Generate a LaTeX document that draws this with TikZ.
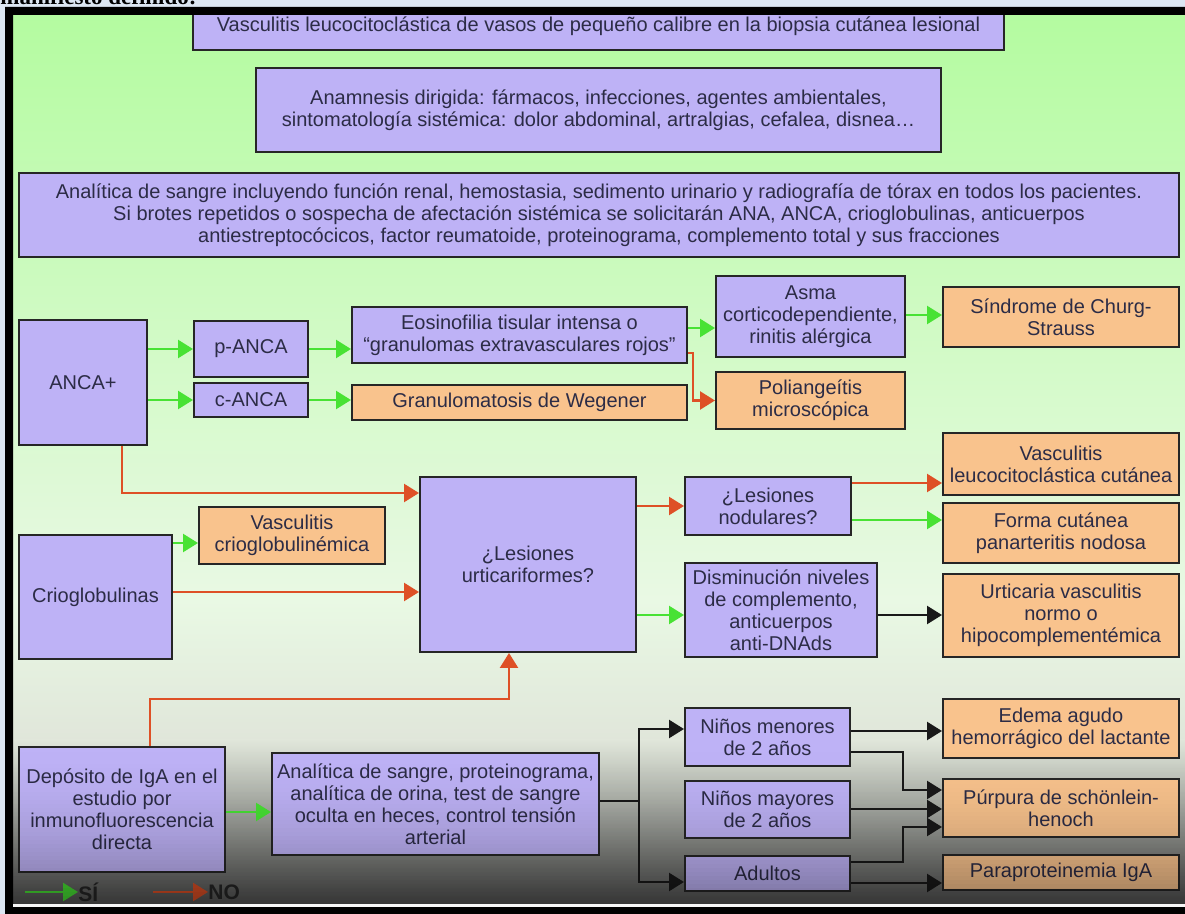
\documentclass[tikz,border=0pt]{standalone}
\usepackage{fontspec}
\setmainfont{Liberation Sans}
\newfontfamily\cabecera{Liberation Serif}
\usepackage{tikz}
\usetikzlibrary{arrows.meta}
\definecolor{colorVerde}{HTML}{B4FBA0}
\definecolor{colorPalido}{HTML}{E9F9E4}
\definecolor{colorGris}{HTML}{E0E6DA}
\definecolor{colorOscuro}{HTML}{555555}
\definecolor{colorMorado}{HTML}{BEB2F6}
\definecolor{colorNaranja}{HTML}{F9C38D}
\definecolor{colorSi}{HTML}{48E234}
\definecolor{colorNo}{HTML}{DE5026}
\definecolor{colorTexto}{HTML}{2C2C46}
\definecolor{colorMarco}{HTML}{DCE6F2}

\tikzset{
  caja/.style={draw=black!85, line width=1pt, inner sep=0pt, align=center,
    text=colorTexto, font=\fontsize{10}{11}\selectfont},
  morada/.style={caja, fill=colorMorado},
  naranja/.style={caja, fill=colorNaranja},
  esquinas/.style n args={4}{at={({(#1+#3)/2},{(#2+#4)/2})},
    minimum width={(#3-#1)*0.5pt}, minimum height={(#4-#2)*0.5pt}},
  flecha/.style={line width=1.2pt, -{Triangle[length=7.5pt,width=9pt]}},
  si/.style={flecha, draw=colorSi},
  no/.style={flecha, draw=colorNo},
  neutra/.style={flecha, draw=black!90},
  leyenda/.style={anchor=west, inner sep=0pt, text=black!85,
    font=\bfseries\fontsize{10.5}{11}\selectfont},
}

\begin{document}
\begin{tikzpicture}[x=0.5pt, y=-0.5pt]
    \useasboundingbox (0,0) rectangle (1185,914);
    \fill[colorMarco] (0,0) rectangle (1185,914);

    \begin{scope}
        \clip (13,15) rectangle (1185,904);
        \fill[top color=colorVerde, bottom color=colorPalido] (13,15) rectangle (1185,600);
        \fill[top color=colorPalido, bottom color=colorGris] (13,600) rectangle (1185,740);
        \fill[top color=colorGris, bottom color=colorOscuro] (13,740) rectangle (1185,905);

        % cajas de arriba
        \node[morada, esquinas={193}{2}{1004}{50}] (biopsia) {Vasculitis leucocitoclástica de vasos de pequeño calibre en la biopsia cutánea lesional};
        \node[morada, esquinas={256}{68}{941}{152}] (anamnesis) {Anamnesis dirigida: fármacos, infecciones, agentes ambientales,\\sintomatología sistémica: dolor abdominal, artralgias, cefalea, disnea…};
        \node[morada, esquinas={19}{173}{1179}{257}] (analitica) {Analítica de sangre incluyendo función renal, hemostasia, sedimento urinario y radiografía de tórax en todos los pacientes.\\Si brotes repetidos o sospecha de afectación sistémica se solicitarán ANA, ANCA, crioglobulinas, anticuerpos\\antiestreptocócicos, factor reumatoide, proteinograma, complemento total y sus fracciones};

        % ANCA
        \node[morada, esquinas={19}{320}{147}{445}] (anca) {ANCA+};
        \node[morada, esquinas={194}{321}{308}{377}] (panca) {p-ANCA};
        \node[morada, esquinas={194}{383}{308}{417}] (canca) {c-ANCA};
        \node[morada, esquinas={352}{307}{687}{363}] (eosino) {Eosinofilia tisular intensa o\\“granulomas extravasculares rojos”};
        \node[naranja, esquinas={352}{385}{687}{420}] (wegener) {Granulomatosis de Wegener};
        \node[morada, esquinas={716}{276}{905}{357}] (asma) {Asma\\corticodependiente,\\rinitis alérgica};
        \node[naranja, esquinas={943}{287}{1179}{347}] (churg) {Síndrome de Churg-\\Strauss};
        \node[naranja, esquinas={716}{372}{905}{429}] (poliang) {Poliangeítis\\microscópica};

        % lesiones
        \node[morada, esquinas={420}{477}{636}{652}] (urtica) {¿Lesiones\\urticariformes?};
        \node[morada, esquinas={19}{535}{172}{659}] (crio) {Crioglobulinas};
        \node[naranja, esquinas={199}{507}{385}{564}] (criovasc) {Vasculitis\\crioglobulinémica};
        \node[morada, esquinas={685}{477}{851}{535}] (nodular) {¿Lesiones\\nodulares?};
        \node[naranja, esquinas={943}{433}{1179}{495}] (leuco) {Vasculitis\\leucocitoclástica cutánea};
        \node[naranja, esquinas={943}{503}{1179}{563}] (forma) {Forma cutánea\\panarteritis nodosa};
        \node[morada, esquinas={685}{563}{877}{657}] (disminu) {Disminución niveles\\de complemento,\\anticuerpos\\anti-DNAds};
        \node[naranja, esquinas={943}{574}{1179}{657}] (urtvasc) {Urticaria vasculitis\\normo o\\hipocomplementémica};

        % IgA
        \node[morada, esquinas={19}{747}{225}{872}] (iga) {Depósito de IgA en el\\estudio por\\inmunofluorescencia\\directa};
        \node[morada, esquinas={272}{753}{599}{855}] (pruebas) {Analítica de sangre, proteinograma,\\analítica de orina, test de sangre\\oculta en heces, control tensión\\arterial};
        \node[morada, esquinas={685}{708}{850}{766}] (menores) {Niños menores\\de 2 años};
        \node[morada, esquinas={685}{781}{850}{838}] (mayores) {Niños mayores\\de 2 años};
        \node[morada, esquinas={685}{856}{850}{891}] (adultos) {Adultos};
        \node[naranja, esquinas={943}{699}{1179}{758}] (edema) {Edema agudo\\hemorrágico del lactante};
        \node[naranja, esquinas={943}{779}{1179}{837}] (purpura) {Púrpura de schönlein-\\henoch};
        \node[naranja, esquinas={943}{855}{1179}{890}] (paraprot) {Paraproteinemia IgA};

        % flechas ANCA
        \draw[si] (anca.east |- panca.west) -- (panca.west);
        \draw[si] (anca.east |- canca.west) -- (canca.west);
        \draw[si] (panca.east) -- (panca.east -| eosino.west);
        \draw[si] (canca.east) -- (canca.east -| wegener.west);
        \draw[si] (eosino.east |- 0,328) -- (asma.west |- 0,328);
        \draw[no] (eosino.east |- 0,353) -- ++(5,0) |- (poliang.west);
        \draw[si] (asma.east |- 0,315) -- (churg.west |- 0,315);
        \draw[no] (anca.south -| 122,0) |- (urtica.west |- 0,493);

        % flechas crioglobulinas e IgA
        \draw[si] (crio.east |- 0,543) -- (criovasc.west |- 0,543);
        \draw[no] (crio.east |- 0,592) -- (urtica.west |- 0,592);
        \draw[no] (iga.north -| 150,0) -- ++(0,-47) -| (urtica.south -| 509,0);
        \draw[si] (iga.east |- 0,812) -- (pruebas.west |- 0,812);

        % flechas lesiones
        \draw[no] (urtica.east |- nodular.west) -- (nodular.west);
        \draw[si] (urtica.east |- 0,615) -- (disminu.west |- 0,615);
        \draw[no] (nodular.east |- 0,483) -- (leuco.west |- 0,483);
        \draw[si] (nodular.east |- 0,520) -- (forma.west |- 0,520);
        \draw[neutra] (disminu.east |- 0,615) -- (urtvasc.west |- 0,615);

        % edades
        \coordinate (reparto) at (639,801);
        \coordinate (codo) at (903,0);
        \draw[line width=1.2pt, black!90] (pruebas.east |- reparto) -- (reparto);
        \draw[neutra] (reparto) |- (menores.west |- 0,729);
        \draw[neutra] (reparto) |- (adultos.west |- 0,882);
        \draw[neutra] (menores.east |- 0,731) -- (edema.west |- 0,731);
        \draw[neutra] (menores.east |- 0,752) -| (codo |- 0,790) -- (purpura.west |- 0,790);
        \draw[neutra] (mayores.east |- 0,809) -- (purpura.west |- 0,809);
        \draw[neutra] (adultos.east |- 0,862) -| (codo |- 0,827) -- (purpura.west |- 0,827);
        \draw[neutra] (adultos.east |- 0,883) -- (paraprot.west |- 0,883);

        % leyenda
        \node[leyenda] (leySi) at (78,892) {SÍ};
        \node[leyenda] (leyNo) at (208,892) {NO};
        \coordinate (iniSi) at (25,892);
        \coordinate (iniNo) at (153,892);
        \draw[si] (iniSi) -- (leySi.west);
        \draw[no] (iniNo) -- (leyNo.west);

        % sombra de abajo
        \foreach \k in {0,...,40} {
            \pgfmathsetmacro{\opac}{0.36*(\k/40)^2}
            \fill[black, opacity=\opac] (13,{740+4*\k}) rectangle (1185,{744+4*\k});
        }
    \end{scope}

    % marco
    \fill[black, even odd rule] (5,7) rectangle (1185,914) (13,15) rectangle (1185,904);
    \fill[white!92!gray] (13,904) rectangle (1185,907);
    \begin{scope}
        \clip (0,0) rectangle (1185,7);
        \node[anchor=base west, inner sep=0pt, font=\cabecera\bfseries\fontsize{11.5}{12}\selectfont] (titulo) at (0,5) {manifiesto definido:};
    \end{scope}
\end{tikzpicture}
\end{document}
